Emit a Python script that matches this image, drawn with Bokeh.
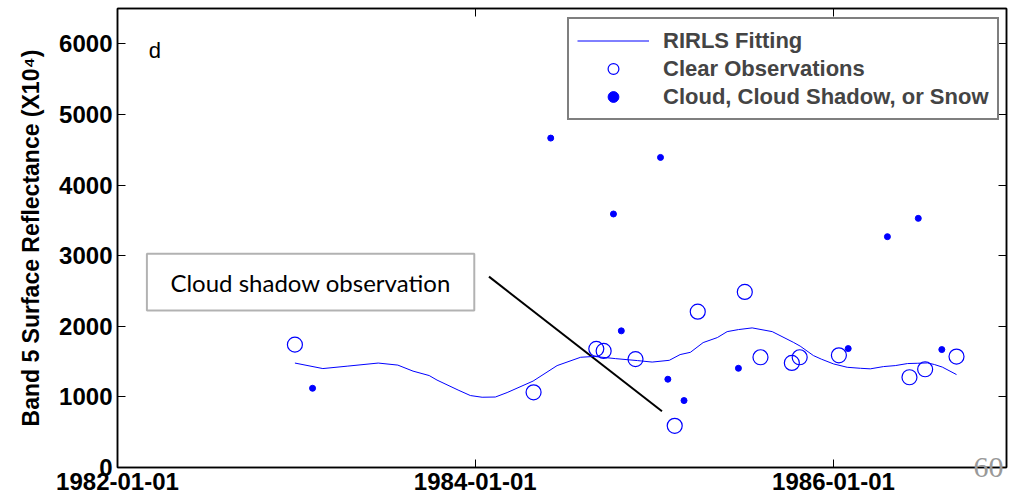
import pandas as pd
from bokeh.plotting import figure
from bokeh.models import (Range1d, FixedTicker, DatetimeTickFormatter, LinearAxis, DatetimeAxis,
                          Legend, LegendItem, Label, BoxAnnotation, CustomJSTickFormatter)
from bokeh.embed import file_html
from bokeh.resources import INLINE

# ---------------- data ----------------
fit_dates = ["1982-12-29", "1983-02-24", "1983-04-16", "1983-06-17", "1983-07-27", "1983-08-27",
             "1983-09-29", "1983-10-15", "1983-11-27", "1983-12-22", "1984-01-15", "1984-02-11",
             "1984-03-06", "1984-04-28", "1984-06-16", "1984-08-03", "1984-08-31", "1984-10-13",
             "1984-11-27", "1984-12-27", "1985-01-31", "1985-02-22", "1985-03-15", "1985-04-10",
             "1985-05-09", "1985-05-29", "1985-06-21", "1985-07-19", "1985-08-29", "1985-10-11",
             "1985-10-25", "1985-11-21", "1985-12-07", "1986-01-01", "1986-01-29", "1986-02-25",
             "1986-03-17", "1986-04-13", "1986-05-07", "1986-06-01", "1986-06-21", "1986-07-12",
             "1986-07-26", "1986-08-11", "1986-09-09"]
fit_values = [1479, 1401, 1436, 1479, 1450, 1365,
              1302, 1238, 1097, 1019, 995, 998,
              1061, 1224, 1443, 1561, 1573, 1542,
              1514, 1493, 1518, 1599, 1631, 1769,
              1840, 1924, 1953, 1977, 1924, 1773,
              1719, 1585, 1535, 1467, 1419, 1405,
              1397, 1429, 1443, 1472, 1476, 1481,
              1458, 1422, 1316]

clear_dates = ["1982-12-29", "1984-04-29", "1984-09-04", "1984-09-19", "1984-11-23", "1985-02-11",
               "1985-03-30", "1985-07-04", "1985-08-05", "1985-10-08", "1985-10-24", "1986-01-12",
               "1986-06-05", "1986-07-07", "1986-09-09"]
clear_values = [1740, 1065, 1680, 1651, 1535, 590, 2207, 2486, 1561, 1481, 1561, 1589, 1278, 1391, 1571]

cloud_dates = ["1983-02-03", "1984-06-03", "1984-10-09", "1984-10-25", "1985-01-13", "1985-01-28",
               "1985-03-02", "1985-06-21", "1986-01-31", "1986-04-21", "1986-06-23", "1986-08-10"]
cloud_values = [1122, 4665, 3590, 1935, 4391, 1250, 948, 1405, 1684, 3269, 3528, 1670]

x_tick_labels = ["1982-01-01", "1984-01-01", "1986-01-01"]
y_ticks = [0, 1000, 2000, 3000, 4000, 5000, 6000]
legend_labels = ["RIRLS Fitting", "Clear Observations", "Cloud, Cloud Shadow, or Snow"]
annotation_text = "Cloud shadow observation"
panel_letter = "d"
page_number = "60"


def ms(s):
    return pd.Timestamp(s).value / 1e6


def ts(lst):
    return pd.to_datetime(lst)


BLUE = "#0000ff"
FONT = "Liberation Sans"

p = figure(width=1016, height=501, x_axis_type="datetime", output_backend="svg",
           toolbar_location=None,
           x_range=Range1d(ms("1982-01-01"), ms("1986-12-20")),
           y_range=Range1d(0, 6500),
           min_border_left=117, min_border_right=10, min_border_top=8, min_border_bottom=34)
p.xgrid.visible = False
p.ygrid.visible = False
p.outline_line_color = "black"
p.outline_line_width = 1.5
p.background_fill_color = "white"
p.border_fill_color = "white"

x_ticks = [ms(s) for s in x_tick_labels]
fmt_all = "%Y-%m-%d"

# bottom axis
xa = p.xaxis[0]
xa.ticker = FixedTicker(ticks=x_ticks)
xa.formatter = DatetimeTickFormatter(microseconds=fmt_all, milliseconds=fmt_all, seconds=fmt_all,
                                     minsec=fmt_all, minutes=fmt_all, hourmin=fmt_all, hours=fmt_all,
                                     days=fmt_all, months=fmt_all, years=fmt_all,
                                     strip_leading_zeros=False, context=None)

# left axis
ya = p.yaxis[0]
ya.ticker = FixedTicker(ticks=y_ticks)
ya.axis_label = "Band 5 Surface Reflectance (X10\u2074)"
ya.axis_label_text_font = FONT
ya.axis_label_text_font_style = "bold"
ya.axis_label_text_font_size = "23px"
ya.axis_label_text_color = "black"
ya.axis_label_standoff = 12

for ax in (xa, ya):
    ax.major_label_text_font = FONT
    ax.major_label_text_font_style = "bold"
    ax.major_label_text_font_size = "24px"
    ax.major_label_text_color = "black"
    ax.major_tick_in = 8
    ax.major_tick_out = 0
    ax.minor_tick_line_color = None
    ax.axis_line_color = "black"
    ax.axis_line_width = 1.5
    ax.major_tick_line_color = "black"
    ax.major_label_standoff = 5

blank = CustomJSTickFormatter(code="return ''")
ra = LinearAxis(ticker=FixedTicker(ticks=y_ticks), formatter=blank,
                major_label_text_font_size="1px", major_tick_in=8, major_tick_out=0,
                minor_tick_line_color=None, axis_line_width=1.5, major_label_standoff=0)
# the slide's page number, drawn as the right axis' label near the bottom right corner
ra.axis_label = page_number
ra.axis_label_orientation = "horizontal"
ra.axis_label_align = "start"
ra.axis_label_standoff = -33
ra.axis_label_text_font = "Liberation Sans Narrow"
ra.axis_label_text_font_style = "normal"
ra.axis_label_text_font_size = "30px"
ra.axis_label_text_color = "#999999"
ta = DatetimeAxis(ticker=FixedTicker(ticks=x_ticks), formatter=blank,
                  major_label_text_font_size="1px", major_tick_in=8, major_tick_out=0,
                  minor_tick_line_color=None, axis_line_width=1.5, major_label_standoff=0)
p.add_layout(ra, "right")
p.add_layout(ta, "above")

# annotation box + pointer line
box = BoxAnnotation(left=ms("1982-03-02"), right=ms("1983-12-30"), bottom=2222, top=3028,
                    fill_color="white", fill_alpha=1.0, line_color="black", line_width=2,
                    level="underlay")
p.add_layout(box)
p.add_layout(Label(x=ms("1983-01-30"), y=2625, text=annotation_text, text_font="Lato",
                   text_font_size="24px", text_align="center", text_baseline="middle",
                   text_color="black"))
p.line(x=ts(["1984-01-29", "1985-01-16"]), y=[2703, 797], line_color="black", line_width=2)

# data
r_line = p.line(ts(fit_dates), fit_values, line_color=BLUE, line_width=1)
r_clear = p.scatter(ts(clear_dates), clear_values, marker="circle", size=15,
                    fill_color=None, line_color=BLUE, line_width=1.2)
r_cloud = p.scatter(ts(cloud_dates), cloud_values, marker="circle", size=6,
                    fill_color=BLUE, line_color=BLUE)

legend = Legend(items=[LegendItem(label=legend_labels[0], renderers=[r_line]),
                       LegendItem(label=legend_labels[1], renderers=[r_clear]),
                       LegendItem(label=legend_labels[2], renderers=[r_cloud])],
                location=(450, 347), border_line_color="black", border_line_width=2,
                background_fill_color="white", background_fill_alpha=1.0,
                label_text_font=FONT, label_text_font_style="bold", label_text_font_size="22px",
                glyph_width=72, glyph_height=27, label_height=27, spacing=1, padding=8,
                label_standoff=14, margin=0)
p.add_layout(legend)

p.add_layout(Label(x=ms("1982-03-18"), y=5900, text=panel_letter, text_font=FONT,
                   text_font_size="22px", text_align="center", text_baseline="middle",
                   text_color="black"))

open("out.html", "w").write(file_html(p, INLINE))
